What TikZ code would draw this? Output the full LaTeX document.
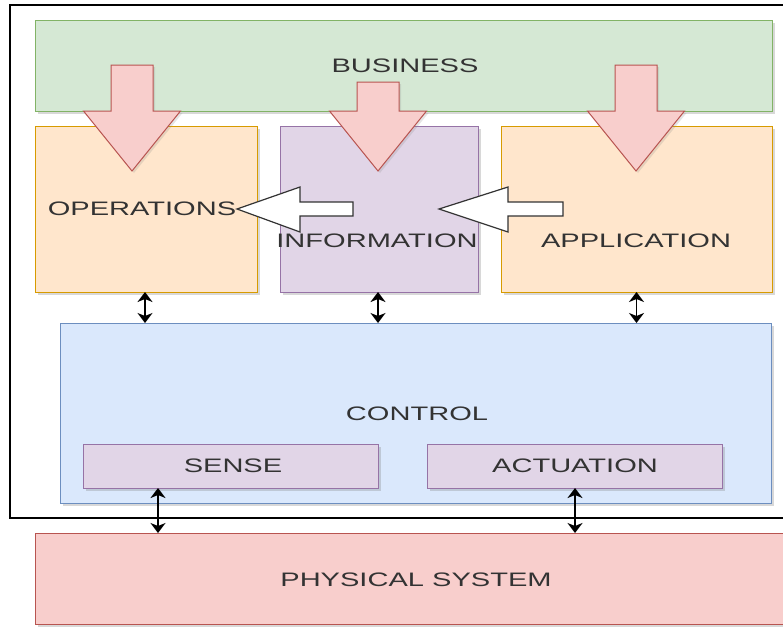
\documentclass[tikz,border=0pt]{standalone}
\usepackage{fontspec}
\setmainfont{Liberation Sans}
\usetikzlibrary{shadows,arrows.meta}
\definecolor{bizF}{HTML}{D5E8D4}\definecolor{bizD}{HTML}{82B366}
\definecolor{orF}{HTML}{FFE6CC}\definecolor{orD}{HTML}{D79B00}
\definecolor{puF}{HTML}{E1D5E7}\definecolor{puD}{HTML}{9673A6}
\definecolor{blF}{HTML}{DAE8FC}\definecolor{blD}{HTML}{6C8EBF}
\definecolor{rdF}{HTML}{F8CECC}\definecolor{rdD}{HTML}{B85450}
\definecolor{txt}{HTML}{333333}
\newcommand\wtxt[1]{\scalebox{1.49}[1]{#1}}
\tikzset{bigtip/.tip={Stealth[length=10pt,width=15pt,inset=3pt]}}
\begin{document}
\begin{tikzpicture}[x=1pt,y=-1pt,
  box/.style={draw, line width=1pt, inner sep=0pt, outer sep=0pt,
    drop shadow={shadow xshift=3pt, shadow yshift=-3pt, opacity=0.3}},
  lbl/.style={text=txt, font=\fontsize{19.5}{22}\selectfont, inner sep=0pt},
  bigred/.style={draw=rdD, fill=rdF, line width=1pt, line join=miter,
    drop shadow={shadow xshift=2pt, shadow yshift=-2pt, opacity=0.2}},
  bigwhite/.style={draw=txt, fill=white, line width=1.2pt, line join=miter},
  dbl/.style={line width=1.8pt, arrows={bigtip-bigtip}}]
\clip (0,0) rectangle (783,627);
\fill[white] (0,0) rectangle (783,627);
% outer frame
\draw[line width=1.5pt] (10,5) rectangle (810,518);
% boxes
\node[box, fill=bizF, draw=bizD, minimum width=737pt, minimum height=91pt] (biz) at (403.5,65.5) {};
\node[box, fill=orF, draw=orD, minimum width=222pt, minimum height=166pt] (ops) at (146,209) {};
\node[box, fill=puF, draw=puD, minimum width=198pt, minimum height=166pt] (info) at (379,209) {};
\node[box, fill=orF, draw=orD, minimum width=271pt, minimum height=166pt] (app) at (636.5,209) {};
\node[box, fill=blF, draw=blD, minimum width=711pt, minimum height=180pt] (ctrl) at (415.5,413) {};
\node[box, fill=puF, draw=puD, minimum width=295pt, minimum height=44pt] (sense) at (230.5,466) {};
\node[box, fill=puF, draw=puD, minimum width=295pt, minimum height=44pt] (act) at (574.5,466) {};
\node[box, fill=rdF, draw=rdD, minimum width=775pt, minimum height=91pt] (phys) at (422.5,578.5) {};
% labels
\node[lbl] (tbiz) at (405,66) {\wtxt{BUSINESS}};
\node[lbl] (tops) at (142,209) {\wtxt{OPERATIONS}};
\node[lbl] (tinfo) at (377,241) {\wtxt{INFORMATION}};
\node[lbl] (tapp) at (636,241) {\wtxt{APPLICATION}};
\node[lbl] (tctrl) at (417,414) {\wtxt{CONTROL}};
\node[lbl] (tsense) at (233,466) {\wtxt{SENSE}};
\node[lbl] (tact) at (575,466) {\wtxt{ACTUATION}};
\node[lbl] (tphys) at (416,580) {\wtxt{PHYSICAL SYSTEM}};
% big red arrows
\draw[bigred] (111,65) -- (153,65) -- (153,111) -- (180.5,111) -- (132,171) -- (83.5,111) -- (111,111) -- cycle;
\draw[bigred] (357,82) -- (399,82) -- (399,111) -- (426.5,111) -- (378,171) -- (329.5,111) -- (357,111) -- cycle;
\draw[bigred] (615,65) -- (657,65) -- (657,111) -- (684.5,111) -- (636,171) -- (587.5,111) -- (615,111) -- cycle;
% big white arrows
\draw[bigwhite] (237,209) -- (300,187) -- (300,202) -- (353,202) -- (353,216) -- (300,216) -- (300,232) -- cycle;
\draw[bigwhite] (439,209) -- (508,187) -- (508,202) -- (563,202) -- (563,216) -- (508,216) -- (508,232) -- cycle;
% double arrows
\draw[dbl] ([xshift=-1pt]ops.south) -- ([xshift=-1pt]ops.south |- ctrl.north);
\draw[dbl] ([xshift=-1pt]info.south) -- ([xshift=-1pt]info.south |- ctrl.north);
\draw[dbl] (app.south) -- (app.south |- ctrl.north);
\draw[dbl] ([xshift=-72.5pt]sense.south) -- ([xshift=-72.5pt]sense.south |- phys.north);
\draw[dbl] ([xshift=0.5pt]act.south) -- ([xshift=0.5pt]act.south |- phys.north);
\end{tikzpicture}
\end{document}
